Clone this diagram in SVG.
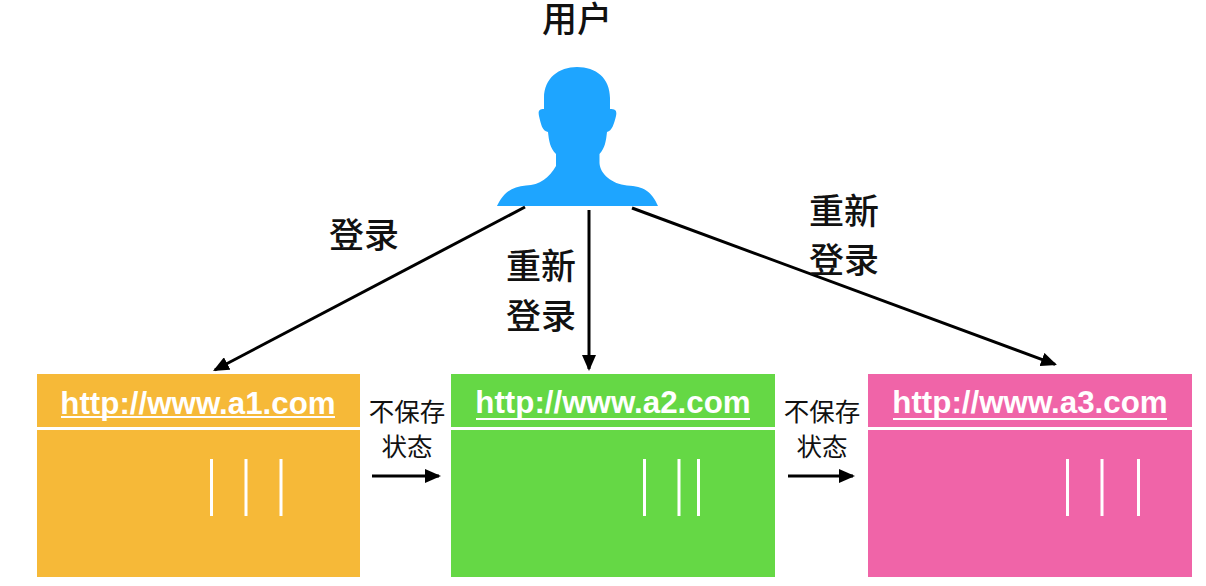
<svg xmlns="http://www.w3.org/2000/svg" width="1206" height="586" viewBox="0 0 1206 586">
<style>
.cjk{font-family:"Noto Sans CJK SC","Liberation Sans",sans-serif;fill:#111;text-anchor:middle}
.big{font-size:35px;font-weight:500}
.small{font-size:25.500px}
.url{font-family:"Liberation Sans",Arial,sans-serif;font-size:31.300px;font-weight:700;fill:#fff;text-anchor:middle}
.rule{stroke:#fff;stroke-width:2;fill:none}
.bar{stroke:#fff;stroke-width:3;fill:none}
.edge{stroke:#000;stroke-width:3;fill:none;marker-end:url(#arrow)}
</style>
<defs>
<marker id="arrow" markerUnits="userSpaceOnUse" markerWidth="17" markerHeight="14" refX="14" refY="7" orient="auto">
<path d="M0 0L16 7L0 14Z" fill="#000"/>
</marker>
</defs>
<rect width="1206" height="586" fill="#fff"/>
<g id="user">
<text class="cjk big" x="577" y="32">用户</text>
<path fill="#1ea5ff" d="M497 206C503 193 511 187 526 185.500C540 185 549 178 556 166V154C550 148 549 141 548 132C542 131 541 124 539 116C538 111 539 109 544 109V98C544 78 559 67 577 67C596 67 610 78 610 98V109C616 109 617 111 616 116C614 124 612 131 607 132C606 141 605 148 599.500 154V163C600 174 612 184 627 185.500C644 186 652 192 658 206Z"/>
</g>
<g id="site-a1">
<rect x="37" y="374" width="323" height="53" fill="#f6b938"/>
<rect x="37" y="430" width="323" height="147" fill="#f6b938"/>
<text class="url" x="198" y="414">http://www.a1.com</text>
<path class="rule" d="M61 417H335"/>
<path class="bar" d="M211.500 459V516M246 459V516M281 459V516"/>
</g>
<g id="site-a2">
<rect x="451" y="374" width="324" height="53" fill="#65d845"/>
<rect x="451" y="430" width="324" height="147" fill="#65d845"/>
<text class="url" x="613" y="413">http://www.a2.com</text>
<path class="rule" d="M476 419H750"/>
<path class="bar" d="M644.500 459V516M679 459V516M698.500 459V516"/>
</g>
<g id="site-a3">
<rect x="868" y="374" width="324" height="53" fill="#f064a8"/>
<rect x="868" y="430" width="324" height="147" fill="#f064a8"/>
<text class="url" x="1030" y="413">http://www.a3.com</text>
<path class="rule" d="M893 419H1167"/>
<path class="bar" d="M1067.500 459V516M1102 459V516M1138.500 459V516"/>
</g>
<g id="connectors">
<line class="edge" x1="525" y1="207" x2="214.800" y2="370"/>
<line class="edge" x1="589" y1="210" x2="589" y2="369"/>
<line class="edge" x1="632" y1="208" x2="1055.100" y2="364.300"/>
<line class="edge" x1="372" y1="476" x2="439" y2="476"/>
<line class="edge" x1="788" y1="476" x2="853" y2="476"/>
</g>
<g id="labels">
<text class="cjk big" x="364" y="248">登录</text>
<text class="cjk big" x="541" y="279">重新</text>
<text class="cjk big" x="541" y="329">登录</text>
<text class="cjk big" x="844" y="224">重新</text>
<text class="cjk big" x="844" y="273">登录</text>
<text class="cjk small" x="407" y="421">不保存</text>
<text class="cjk small" x="407" y="456">状态</text>
<text class="cjk small" x="822" y="421">不保存</text>
<text class="cjk small" x="822" y="456">状态</text>
</g>
</svg>
